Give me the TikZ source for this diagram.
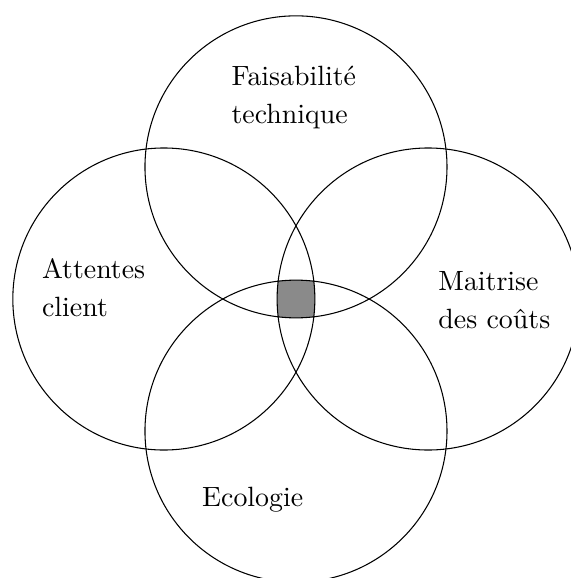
\documentclass[tikz,border=0pt]{standalone}
\begin{document}
\begin{tikzpicture}[
  ring/.style={draw=black, line width=0.8pt},
  lbl/.style={scale=2.1, inner sep=0pt, anchor=base west, align=left, font=\normalsize},
]
\clip (-7.84,-7.39) rectangle (7.28,7.92);
\useasboundingbox (-7.84,-7.39) rectangle (7.28,7.92);
\coordinate (ct) at (0,3.5);
\coordinate (cl) at (-3.5,0);
\coordinate (cr) at (3.5,0);
\coordinate (cb) at (0,-3.5);
\begin{scope}
  \clip (ct) circle (4);
  \clip (cl) circle (4);
  \clip (cr) circle (4);
  \fill[black!46] (cb) circle (4);
\end{scope}
\node[ring, circle, minimum size=8cm, inner sep=0pt] (top) at (ct) {};
\node[ring, circle, minimum size=8cm, inner sep=0pt] (left) at (cl) {};
\node[ring, circle, minimum size=8cm, inner sep=0pt] (right) at (cr) {};
\node[ring, circle, minimum size=8cm, inner sep=0pt] (bottom) at (cb) {};
\node[lbl] (t1) at (-1.72,4.66) {Faisabilit\'e\\[1.6pt]technique};
\node[lbl] (t2) at (-6.74,-0.47) {Attentes\\[1.6pt]client};
\node[lbl] (t3) at (3.76,-0.79) {Maitrise\\[1.6pt]des co\^uts};
\node[lbl] (t4) at (-2.50,-5.50) {Ecologie};
\end{tikzpicture}
\end{document}
